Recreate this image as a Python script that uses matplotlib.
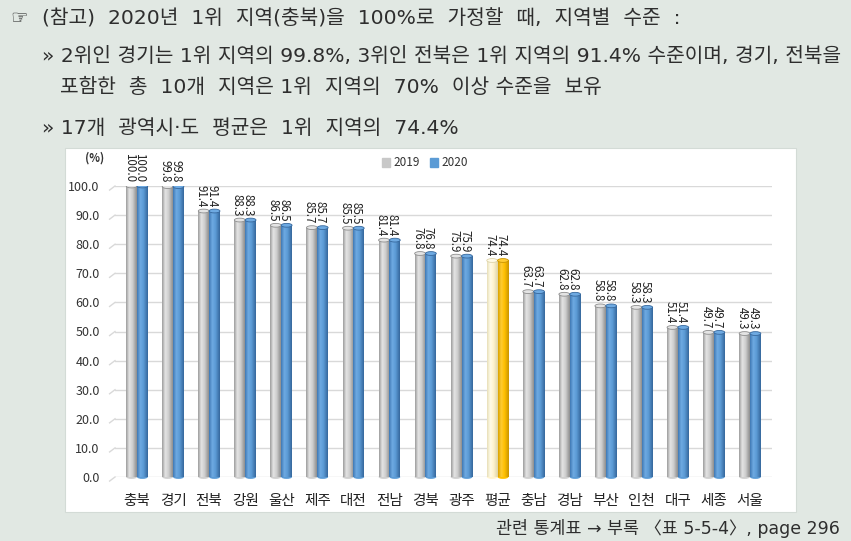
import numpy as np
import matplotlib
matplotlib.use("Agg")
import matplotlib.pyplot as plt
from matplotlib.patches import Rectangle, Ellipse, Patch
from matplotlib.colors import LinearSegmentedColormap

plt.rcParams['font.family'] = ['Noto Sans CJK KR', 'DejaVu Sans']
HEAD_FONT = ['DejaVu Sans', 'Noto Sans CJK KR']

regions = ["충북", "경기", "전북", "강원", "울산", "제주", "대전", "전남", "경북",
           "광주", "평균", "충남", "경남", "부산", "인천", "대구", "세종", "서울"]
values_2019 = [100.0, 99.8, 91.4, 88.3, 86.5, 85.7, 85.5, 81.4, 76.8,
               75.9, 74.4, 63.7, 62.8, 58.8, 58.3, 51.4, 49.7, 49.3]
values_2020 = [100.0, 99.8, 91.4, 88.3, 86.5, 85.7, 85.5, 81.4, 76.8,
               75.9, 74.4, 63.7, 62.8, 58.8, 58.3, 51.4, 49.7, 49.3]
series_names = ["2019", "2020"]
yticks = [0, 10, 20, 30, 40, 50, 60, 70, 80, 90, 100]
highlight = "평균"

BG = "#e1e8e3"
TXT = "#333333"
GRID = "#d9d9d9"

# gradient stops (left edge -> highlight -> right edge)
GRAY = ["#9c9c9c", "#e4e4e4", "#cfcfcf", "#8e8e8e"]
BLUE = ["#3f78b4", "#6eaae2", "#5b9bd5", "#36679c"]
CREAM = ["#e8dfb8", "#fffbe8", "#fff3cf", "#ddd3a8"]
GOLD = ["#d9a200", "#ffcc33", "#ffc000", "#c99400"]

fig = plt.figure(figsize=(8.51, 5.41), dpi=100)
fig.patch.set_facecolor(BG)
panel = Rectangle((65 / 851, 1 - 512 / 541), 731 / 851, 364 / 541,
                  transform=fig.transFigure, facecolor="white",
                  edgecolor="#d3dbd6", lw=0.8, zorder=-1)
fig.patches.append(panel)

ax = fig.add_axes([115 / 851, 1 - 477 / 541, 657 / 851, 291 / 541])
ax.set_facecolor("none")
ax.set_zorder(2)

x = np.arange(len(regions))
w = 0.3
x0, x1 = -0.61, len(regions) - 0.39


def cylinders(xpos, vals, stops_normal, stops_hl):
    bars = ax.bar(xpos, vals, w, color=stops_normal[2], zorder=2, lw=0)
    for bar, name in zip(bars, regions):
        stops = stops_hl if name == highlight else stops_normal
        cmap = LinearSegmentedColormap.from_list("c", list(zip([0, 0.3, 0.6, 1], stops)))
        bx, by = bar.get_x(), bar.get_y()
        bw, bh = bar.get_width(), bar.get_height()
        im = ax.imshow(np.linspace(0, 1, 64).reshape(1, -1), cmap=cmap, aspect="auto",
                       extent=(bx, bx + bw, by, by + bh), zorder=2, interpolation="bilinear")
        im.set_clip_path(bar)
        ax.add_patch(Ellipse((bx + bw / 2, by + bh), bw, 1.3, facecolor=stops[1],
                             edgecolor=stops[3], lw=0.6, zorder=3))
        ax.add_patch(Ellipse((bx + bw / 2, by), bw, 1.3, facecolor=stops[2],
                             lw=0, zorder=1.9, clip_on=False))
        ax.text(bx + bw / 2 - 0.07, by + bh + 1.4, f"{bh:.1f}", rotation=-90,
                ha="center", va="bottom", fontsize=8.3, color="#222222", zorder=4)
    return bars


cylinders(x - w / 2, values_2019, GRAY, CREAM)
cylinders(x + w / 2, values_2020, BLUE, GOLD)

for t in yticks:
    ax.axhline(t, color=GRID, lw=1, zorder=0)
    ax.plot([x0, x0 - 0.15], [t, t - 1.4], color=GRID, lw=1, clip_on=False)

ax.set_xlim(x0, x1)
ax.set_ylim(0, 100)
ax.set_yticks(yticks)
ax.set_yticklabels([f"{t:.1f}" for t in yticks], fontsize=9, color=TXT)
ax.set_xticks(x)
ax.set_xticklabels(regions, fontsize=10.5, color="#222222")
ax.tick_params(axis="both", length=0)
ax.tick_params(axis="y", pad=11)
ax.tick_params(axis="x", pad=12)
for s in ax.spines.values():
    s.set_visible(False)

fig.text(95 / 851, 1 - 158 / 541, "(%)", fontsize=8, fontweight="bold", color=TXT,
         ha="center", va="center")

handles = [Patch(color="#c8c8c8"), Patch(color="#5b9bd5")]
fig.legend(handles, series_names, loc="center", bbox_to_anchor=(425 / 851, 1 - 163 / 541),
           ncol=2, frameon=False, fontsize=8.5, handlelength=0.7, handleheight=0.7,
           handletextpad=0.3, columnspacing=0.8, labelcolor=TXT)

# header text
HC = "#2e2e2e"
HS = 14.6
fig.text(10 / 851, 1 - 19 / 541, "☞", fontsize=14, color=HC, va="center", family=HEAD_FONT)
fig.text(42 / 851, 1 - 19 / 541, "(참고)  2020년  1위  지역(충북)을  100%로  가정할  때,  지역별  수준  :",
         fontsize=HS, color=HC, va="center", family=HEAD_FONT)
fig.text(42 / 851, 1 - 56 / 541,
         "» 2위인 경기는 1위 지역의 99.8%, 3위인 전북은 1위 지역의 91.4% 수준이며, 경기, 전북을",
         fontsize=HS, color=HC, va="center", family=HEAD_FONT)
fig.text(60 / 851, 1 - 87 / 541, "포함한  총  10개  지역은 1위  지역의  70%  이상 수준을  보유",
         fontsize=HS, color=HC, va="center", family=HEAD_FONT)
fig.text(42 / 851, 1 - 128 / 541, "» 17개  광역시·도  평균은  1위  지역의  74.4%",
         fontsize=HS, color=HC, va="center", family=HEAD_FONT)
fig.text(840 / 851, 1 - 529 / 541, "관련 통계표 → 부록 〈표 5-5-4〉, page 296",
         fontsize=12.5, color=HC, ha="right", va="center", family=HEAD_FONT)

fig.savefig("out.png", dpi=100, facecolor=BG)
